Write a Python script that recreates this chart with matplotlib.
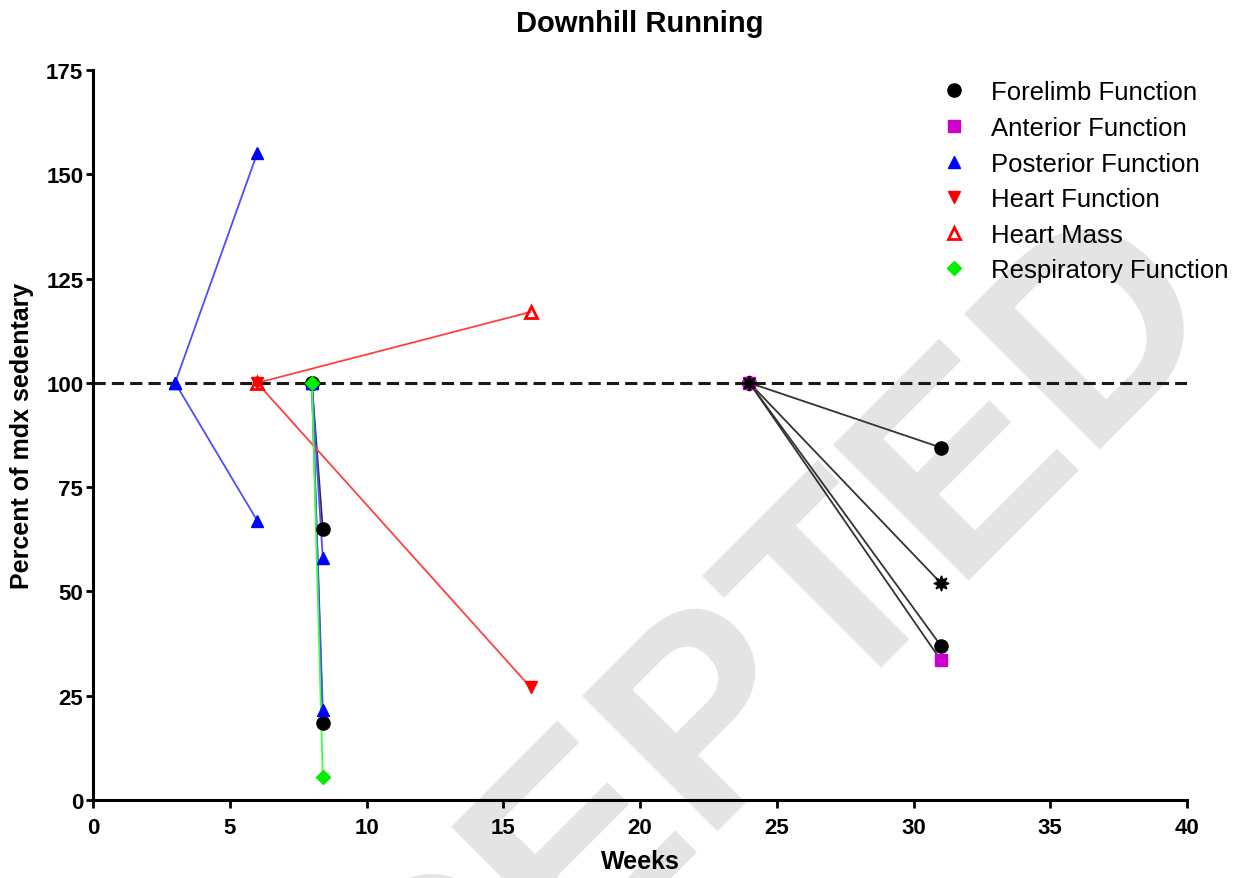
import matplotlib
matplotlib.use("Agg")
import matplotlib.pyplot as plt
from matplotlib.lines import Line2D

plt.rcParams["font.family"] = ["Liberation Sans", "DejaVu Sans"]

# every study starts from the sedentary baseline (100 %)
baseline = 100

forelimb_start = [8, 8, 24, 24]
forelimb_end = [8.4, 8.4, 31, 31]
forelimb_val = [65, 18.5, 84.5, 37]

anterior_start = [24]
anterior_end = [31]
anterior_val = [33.5]

posterior_start = [3, 3, 8, 8]
posterior_end = [6, 6, 8.4, 8.4]
posterior_val = [155, 67, 58, 21.5]

heart_fn_start = [6]
heart_fn_end = [16]
heart_fn_val = [27]

heart_mass_start = [6]
heart_mass_end = [16]
heart_mass_val = [117]

resp_start = [8]
resp_end = [8.4]
resp_val = [5.5]

# extra black series without a legend entry
other_start = [24]
other_end = [31]
other_val = [52]

x_ticks = [0, 5, 10, 15, 20, 25, 30, 35, 40]
y_ticks = [0, 25, 50, 75, 100, 125, 150, 175]

series = [
    # label, starts, ends, values, line colour, marker, marker colour, filled, size
    ("Forelimb Function", forelimb_start, forelimb_end, forelimb_val,
     "#333333", "o", "black", True, 9.5),
    ("Anterior Function", anterior_start, anterior_end, anterior_val,
     "#333333", "s", "#cc00cc", True, 8),
    ("Posterior Function", posterior_start, posterior_end, posterior_val,
     "#4d4dff", "^", "#0000ff", True, 9),
    ("Heart Function", heart_fn_start, heart_fn_end, heart_fn_val,
     "#ff4040", "v", "#ff0000", True, 9),
    ("Heart Mass", heart_mass_start, heart_mass_end, heart_mass_val,
     "#ff4040", "^", "#ff0000", False, 9),
    ("Respiratory Function", resp_start, resp_end, resp_val,
     "#40ff40", "D", "#00ee00", True, 7.5),
]

fig = plt.figure(figsize=(12.44, 8.79), dpi=100)
ax = fig.add_axes([0.0748, 0.0887, 0.8794, 0.8305])
ax.set_facecolor("none")

# faint diagonal stamp behind the data, anchored at its baseline start
fig.text(0.118, -0.588, "ACCEPTED", fontsize=200, fontweight="bold",
         color="#e4e4e4", rotation=45, ha="left", va="baseline",
         rotation_mode="anchor", zorder=-1)

ax.axhline(baseline, color="#1a1a1a", lw=2.2, ls=(0, (4, 2)), zorder=1)

handles = []
for label, starts, ends, vals, lc, mk, mc, filled, ms in series:
    face = mc if filled else "none"
    mew = 1 if filled else 2
    for x0, x1, v in zip(starts, ends, vals):
        ax.plot([x0, x1], [baseline, v], color=lc, lw=1.3, zorder=2)
        ax.plot([x0, x1], [baseline, v], ls="none", marker=mk, ms=ms,
                mfc=face, mec=mc, mew=mew, zorder=3)
    handles.append(Line2D([], [], ls="none", marker=mk, ms=ms, mfc=face,
                          mec=mc, mew=mew, label=label))

for x0, x1, v in zip(other_start, other_end, other_val):
    ax.plot([x0, x1], [baseline, v], color="#333333", lw=1.3, zorder=2)
    ax.plot([x0, x1], [baseline, v], ls="none", marker=(8, 1, 0), ms=11,
            color="black", zorder=4)

ax.set_xlim(0, 40)
ax.set_ylim(0, 175)
ax.set_xticks(x_ticks)
ax.set_yticks(y_ticks)
for s in ["top", "right"]:
    ax.spines[s].set_visible(False)
for s in ["left", "bottom"]:
    ax.spines[s].set_linewidth(2.2)
ax.tick_params(width=2, length=5, labelsize=16, pad=2)
ax.tick_params(axis="x", length=6, pad=6)
for t in ax.get_xticklabels() + ax.get_yticklabels():
    t.set_fontweight("bold")

ax.set_title("Downhill Running", fontsize=21, fontweight="bold", pad=28)
ax.set_xlabel("Weeks", fontsize=18, fontweight="bold", labelpad=8)
ax.set_ylabel("Percent of mdx sedentary", fontsize=18, fontweight="bold",
              labelpad=9)

ax.legend(handles=handles, loc="upper left", bbox_to_anchor=(0.748, 0.919),
          bbox_transform=fig.transFigure, frameon=False, fontsize=18.5,
          handlelength=1.0, handletextpad=0.95, labelspacing=0.45,
          borderaxespad=0)

fig.savefig("out.png", dpi=100)
